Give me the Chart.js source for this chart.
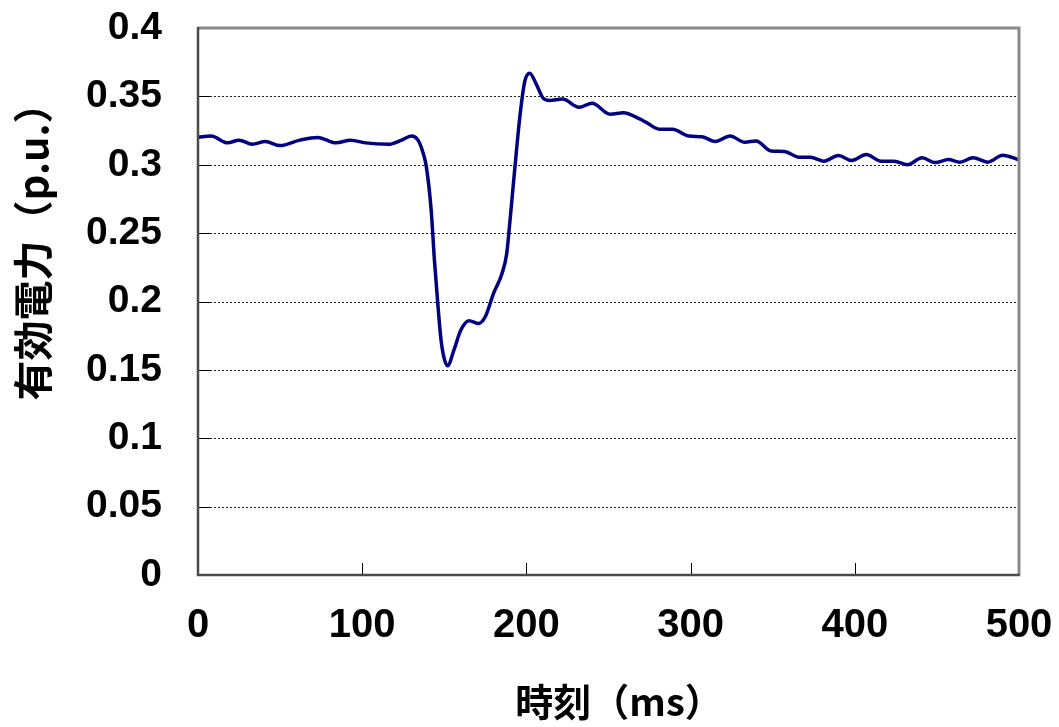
<!DOCTYPE html>
<html>
<head>
<meta charset="utf-8">
<script src="https://cdn.jsdelivr.net/npm/chart.js@4/dist/chart.umd.min.js"></script>
<style>
  html, body { margin: 0; padding: 0; background: #fff; }
  #wrap { width: 1059px; height: 727px; position: relative; }
</style>
</head>
<body>
<div id="wrap"><canvas id="c" width="1059" height="727"></canvas></div>
<script>
// ---- data ----
const timeMs = [0, 8, 18, 25, 33, 41, 50, 62, 73, 84, 93, 102, 116, 124, 130, 134, 137, 139, 142, 144, 146, 148, 150, 152, 156, 160, 165, 171, 175, 180, 185, 188, 190, 193, 196, 199, 202, 206, 210, 214, 222, 232, 240, 251, 259, 269, 273, 281, 289, 299, 307, 315, 324, 333, 340, 349, 357, 366, 373, 381, 390, 398, 407, 416, 424, 432, 441, 449, 457, 464, 472, 481, 490, 500];
const activePower = [0.320, 0.321, 0.316, 0.318, 0.315, 0.317, 0.314, 0.318, 0.320, 0.316, 0.318, 0.316, 0.315, 0.318, 0.321, 0.318, 0.309, 0.299, 0.267, 0.230, 0.199, 0.172, 0.158, 0.153, 0.165, 0.179, 0.186, 0.184, 0.189, 0.206, 0.220, 0.235, 0.259, 0.298, 0.335, 0.361, 0.367, 0.359, 0.349, 0.347, 0.348, 0.342, 0.345, 0.337, 0.338, 0.3335, 0.331, 0.326, 0.326, 0.321, 0.3205, 0.317, 0.321, 0.3165, 0.3174, 0.310, 0.3097, 0.3055, 0.3055, 0.3026, 0.3067, 0.3031, 0.3075, 0.3026, 0.3026, 0.300, 0.3051, 0.3016, 0.3038, 0.3019, 0.3051, 0.3019, 0.307, 0.3036];
const xTickLabels = ["0", "100", "200", "300", "400", "500"];
const yTickLabels = ["0", "0.05", "0.1", "0.15", "0.2", "0.25", "0.3", "0.35", "0.4"];
const xTitle = "時刻（ms）";
const yTitle = "有効電力（p.u.）";

const points = timeMs.map((t, i) => ({ x: t, y: activePower[i] }));
const tickFont = "'Liberation Sans', Arial, sans-serif";

const framePlugin = {
  id: 'frame',
  beforeDatasetsDraw(chart) {
    const { ctx, chartArea: a, scales } = chart;
    const ys = scales.y, xs = scales.x;
    ctx.save();
    // dashed horizontal grid lines
    ctx.strokeStyle = '#222';
    ctx.lineWidth = 1;
    ctx.setLineDash([2, 2]);
    ys.ticks.forEach(t => {
      if (t.value <= 0 || t.value >= 0.4) return;
      const y = Math.round(ys.getPixelForValue(t.value)) + 0.5;
      ctx.beginPath(); ctx.moveTo(a.left, y); ctx.lineTo(a.right, y); ctx.stroke();
    });
    ctx.setLineDash([]);
    // inward tick marks
    ctx.strokeStyle = '#000';
    ctx.lineWidth = 1;
    ys.ticks.forEach(t => {
      const y = Math.round(ys.getPixelForValue(t.value)) + 0.5;
      ctx.beginPath(); ctx.moveTo(a.left, y); ctx.lineTo(a.left + 12, y); ctx.stroke();
    });
    xs.ticks.forEach(t => {
      const x = Math.round(xs.getPixelForValue(t.value)) + 0.5;
      ctx.beginPath(); ctx.moveTo(x, a.bottom); ctx.lineTo(x, a.bottom - 12); ctx.stroke();
    });
    ctx.restore();
  },
  afterDatasetsDraw(chart) {
    const { ctx, chartArea: a } = chart;
    ctx.save();
    // top & right border (light gray, thick)
    ctx.strokeStyle = '#8a8a8a';
    ctx.lineWidth = 3;
    ctx.beginPath();
    ctx.moveTo(a.left, a.top); ctx.lineTo(a.right, a.top); ctx.lineTo(a.right, a.bottom);
    ctx.stroke();
    // left & bottom axes (dark gray)
    ctx.strokeStyle = '#4a4a4a';
    ctx.lineWidth = 2.5;
    ctx.beginPath();
    ctx.moveTo(a.left, a.top - 1); ctx.lineTo(a.left, a.bottom); ctx.lineTo(a.right + 1, a.bottom);
    ctx.stroke();
    // axis titles
    ctx.fillStyle = '#000';
    ctx.textAlign = 'center';
    ctx.textBaseline = 'middle';
    ctx.font = "bold 38px 'Noto Sans CJK JP', sans-serif";
    ctx.fillText(xTitle, 619, 702);
    ctx.translate(33, 242);
    ctx.rotate(-Math.PI / 2);
    ctx.font = "bold 40px 'Noto Sans CJK JP', sans-serif";
    ctx.fillText(yTitle, 0, 0);
    ctx.restore();
  }
};

new Chart(document.getElementById('c'), {
  type: 'line',
  data: {
    datasets: [{
      data: points,
      borderColor: '#000080',
      borderWidth: 3.5,
      pointRadius: 0,
      fill: false,
      cubicInterpolationMode: 'monotone'
    }]
  },
  options: {
    responsive: false,
    animation: false,
    events: [],
    layout: { padding: { top: 28, right: 40, left: 0, bottom: 0 } },
    plugins: { legend: { display: false }, tooltip: { enabled: false } },
    scales: {
      x: {
        type: 'linear',
        min: 0, max: 500,
        grid: { display: false, drawTicks: false },
        border: { display: false },
        afterFit(s) { s.height = 152; s.paddingLeft = 0; s.paddingRight = 0; },
        ticks: {
          stepSize: 100,
          padding: 27,
          color: '#000',
          maxRotation: 0,
          font: { family: tickFont, size: 40, weight: 'bold' },
          callback: (v) => xTickLabels[Math.round(v / 100)]
        }
      },
      y: {
        type: 'linear',
        min: 0, max: 0.4,
        grid: { display: false, drawTicks: false },
        border: { display: false },
        afterFit(s) { s.width = 198; s.paddingTop = 0; s.paddingBottom = 0; },
        ticks: {
          stepSize: 0.05,
          padding: 36,
          color: '#000',
          font: { family: tickFont, size: 39, weight: 'bold' },
          callback: (v) => yTickLabels[Math.round(v / 0.05)]
        }
      }
    }
  },
  plugins: [framePlugin]
});
</script>
</body>
</html>
